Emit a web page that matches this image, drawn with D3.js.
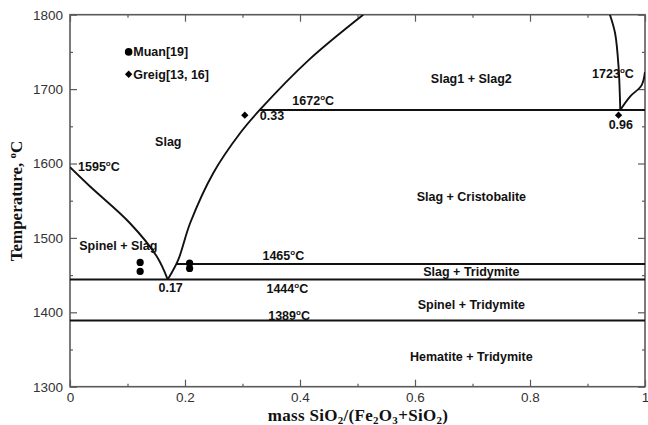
<!DOCTYPE html>
<html>
<head>
<meta charset="utf-8">
<script src="https://cdn.jsdelivr.net/npm/d3@7"></script>
<style>
  html, body { margin: 0; padding: 0; background: #fff; }
  svg { display: block; }
  .lbl { font-family: "Liberation Sans", Arial, sans-serif; font-weight: bold; font-size: 12.5px; fill: #111; }
  .tick text { font-family: "Liberation Sans", Arial, sans-serif; font-size: 13.5px; fill: #333; }
  .title { font-family: "Liberation Serif", "Times New Roman", serif; font-weight: bold; font-size: 17px; fill: #111; }
</style>
</head>
<body>
<svg id="chart" width="648" height="425"></svg>
<script>
// Fe2O3–SiO2 phase diagram in air

// x: mass fraction SiO2/(Fe2O3+SiO2), y: temperature (°C)
const xTicks = [0, 0.2, 0.4, 0.6, 0.8, 1];
const xTickLabels = ["0", "0.2", "0.4", "0.6", "0.8", "1"];
const yTicks = [1300, 1400, 1500, 1600, 1700, 1800];

// liquidus boundaries
const spinelLiquidus = [[0, 1595], [0.035, 1569], [0.104, 1520], [0.151, 1475], [0.17, 1444]];
const silicaLiquidus = [[0.17, 1444], [0.188, 1470], [0.209, 1520], [0.249, 1587], [0.296, 1641],
                        [0.33, 1672], [0.415, 1739], [0.51, 1800]];
const gapBoundary = [[0.939, 1800], [0.948, 1775], [0.954, 1730], [0.957, 1672]];
const cristobaliteLiquidus = [[0.957, 1672], [0.974, 1690], [0.994, 1705], [1.0, 1723]];

// invariant isotherms: [x start, x end, temperature]
const isotherms = [[0.33, 1, 1672], [0.186, 1, 1465], [0, 1, 1444], [0, 1, 1389]];

// experimental points
const muanPoints = [[0.122, 1467], [0.122, 1455], [0.208, 1466], [0.208, 1459]];
const greigPoints = [[0.304, 1665], [0.954, 1665]];

// region and temperature annotations: [text, x, y, anchor] in data units
const regionLabels = [
  ["Slag", 0.171, 1629, "middle"],
  ["Spinel + Slag", 0.016, 1489, "start"],
  ["Slag1 + Slag2", 0.698, 1714, "middle"],
  ["Slag + Cristobalite", 0.698, 1555, "middle"],
  ["Slag + Tridymite", 0.698, 1454, "middle"],
  ["Spinel + Tridymite", 0.698, 1410, "middle"],
  ["Hematite + Tridymite", 0.698, 1340, "middle"]
];
const tempLabels = [
  ["1595", 0.014, 1596, "start"],
  ["1672", 0.423, 1685, "middle"],
  ["1723", 0.908, 1721, "start"],
  ["1465", 0.371, 1477, "middle"],
  ["1444", 0.378, 1432, "middle"],
  ["1389", 0.381, 1396, "middle"]
];
const compLabels = [
  ["0.17", 0.175, 1433, "middle"],
  ["0.33", 0.33, 1665, "start"],
  ["0.96", 0.958, 1652, "middle"]
];

const svg = d3.select("#chart");
const pLeft = 70, pRight = 645, pTop = 14.7, pBottom = 386.7;
const x = d3.scaleLinear().domain([0, 1]).range([pLeft, pRight]);
const y = d3.scaleLinear().domain([1300, 1800]).range([pBottom, pTop]);

svg.append("defs").append("clipPath").attr("id", "plotclip")
  .append("rect").attr("x", pLeft).attr("y", pTop).attr("width", pRight - pLeft).attr("height", pBottom - pTop);

const axisColor = "#5a5a5a";
function styleAxis(g) {
  g.select(".domain").remove();
  g.selectAll(".tick line").attr("stroke", axisColor).attr("stroke-width", 1.2);
}
const minorX = d3.range(0.1, 1, 0.2);
const minorY = d3.range(1350, 1800, 100);

// bottom axis with labels, inward ticks
svg.append("g").attr("transform", `translate(0,${pBottom})`)
  .call(d3.axisBottom(x).tickValues(xTicks).tickFormat((d, i) => xTickLabels[i]).tickSizeInner(-7).tickSizeOuter(0).tickPadding(6))
  .call(styleAxis);
svg.append("g").attr("transform", `translate(0,${pBottom})`)
  .call(d3.axisBottom(x).tickValues(minorX).tickFormat("").tickSizeInner(-3).tickSizeOuter(0))
  .call(styleAxis);
// top axis ticks
svg.append("g").attr("transform", `translate(0,${pTop})`)
  .call(d3.axisTop(x).tickValues(xTicks).tickFormat("").tickSizeInner(-7).tickSizeOuter(0))
  .call(styleAxis);
svg.append("g").attr("transform", `translate(0,${pTop})`)
  .call(d3.axisTop(x).tickValues(minorX).tickFormat("").tickSizeInner(-3).tickSizeOuter(0))
  .call(styleAxis);
// left axis with labels
svg.append("g").attr("transform", `translate(${pLeft},0)`)
  .call(d3.axisLeft(y).tickValues(yTicks).tickFormat(d3.format("d")).tickSizeInner(-7).tickSizeOuter(0).tickPadding(7))
  .call(styleAxis);
svg.append("g").attr("transform", `translate(${pLeft},0)`)
  .call(d3.axisLeft(y).tickValues(minorY).tickFormat("").tickSizeInner(-3).tickSizeOuter(0))
  .call(styleAxis);
// right axis ticks
svg.append("g").attr("transform", `translate(${pRight},0)`)
  .call(d3.axisRight(y).tickValues(yTicks).tickFormat("").tickSizeInner(-7).tickSizeOuter(0))
  .call(styleAxis);
svg.append("g").attr("transform", `translate(${pRight},0)`)
  .call(d3.axisRight(y).tickValues(minorY).tickFormat("").tickSizeInner(-3).tickSizeOuter(0))
  .call(styleAxis);

svg.selectAll(".tick text").attr("fill", "#333");

// frame
svg.append("rect").attr("x", pLeft).attr("y", pTop).attr("width", pRight - pLeft).attr("height", pBottom - pTop)
  .attr("fill", "none").attr("stroke", axisColor).attr("stroke-width", 1.6);

const plot = svg.append("g").attr("clip-path", "url(#plotclip)");
const smooth = d3.line().x(d => x(d[0])).y(d => y(d[1])).curve(d3.curveCatmullRom);

[spinelLiquidus, silicaLiquidus, gapBoundary, cristobaliteLiquidus].forEach(pts => {
  plot.append("path").attr("d", smooth(pts)).attr("fill", "none")
    .attr("stroke", "#111").attr("stroke-width", 1.9);
});

plot.selectAll("line.iso").data(isotherms).join("line").attr("class", "iso")
  .attr("x1", d => x(d[0])).attr("x2", d => x(d[1]))
  .attr("y1", d => y(d[2])).attr("y2", d => y(d[2]))
  .attr("stroke", "#111").attr("stroke-width", 1.9);

// square diamond marker
const squareDiamond = {
  draw(ctx, size) {
    const r = Math.sqrt(size / 2);
    ctx.moveTo(0, -r); ctx.lineTo(r, 0); ctx.lineTo(0, r); ctx.lineTo(-r, 0); ctx.closePath();
  }
};
const diamond = d3.symbol().type(squareDiamond).size(27);

// markers
plot.selectAll("circle.muan").data(muanPoints).join("circle").attr("class", "muan")
  .attr("cx", d => x(d[0])).attr("cy", d => y(d[1])).attr("r", 3.6).attr("fill", "#000");
plot.selectAll("path.greig").data(greigPoints).join("path").attr("class", "greig")
  .attr("d", diamond).attr("transform", d => `translate(${x(d[0])},${y(d[1])})`).attr("fill", "#000");

// legend
const legend = svg.append("g");
legend.append("circle").attr("cx", x(0.102)).attr("cy", y(1750)).attr("r", 3.8).attr("fill", "#000");
legend.append("text").attr("class", "lbl").attr("x", x(0.11)).attr("y", y(1750)).attr("dy", "0.35em").text("Muan[19]");
legend.append("path").attr("d", diamond).attr("transform", `translate(${x(0.102)},${y(1720)})`).attr("fill", "#000");
legend.append("text").attr("class", "lbl").attr("x", x(0.11)).attr("y", y(1720)).attr("dy", "0.35em").text("Greig[13, 16]");

// annotations
svg.selectAll("text.region").data(regionLabels).join("text").attr("class", "lbl region")
  .attr("x", d => x(d[1])).attr("y", d => y(d[2])).attr("dy", "0.35em")
  .attr("text-anchor", d => d[3]).text(d => d[0]);

svg.selectAll("text.comp").data(compLabels).join("text").attr("class", "lbl comp")
  .attr("x", d => x(d[1])).attr("y", d => y(d[2])).attr("dy", "0.35em")
  .attr("text-anchor", d => d[3]).text(d => d[0]);

const temps = svg.selectAll("text.temp").data(tempLabels).join("text").attr("class", "lbl temp")
  .attr("x", d => x(d[1])).attr("y", d => y(d[2]) + 4.5)
  .attr("text-anchor", d => d[3]);
temps.append("tspan").text(d => d[0]);
temps.append("tspan").attr("dy", -5).attr("font-size", "8px").text("o");
temps.append("tspan").attr("dy", 5).text("C");

// axis titles
const xt = svg.append("text").attr("class", "title").attr("x", 358).attr("y", 420.5)
  .attr("text-anchor", "middle").attr("font-size", "16.5px").attr("letter-spacing", "0.3px");
xt.append("tspan").text("mass SiO");
xt.append("tspan").attr("font-size", "11px").attr("dy", 3.5).text("2");
xt.append("tspan").attr("dy", -3.5).text("/(Fe");
xt.append("tspan").attr("font-size", "11px").attr("dy", 3.5).text("2");
xt.append("tspan").attr("dy", -3.5).text("O");
xt.append("tspan").attr("font-size", "11px").attr("dy", 3.5).text("3");
xt.append("tspan").attr("dy", -3.5).text("+SiO");
xt.append("tspan").attr("font-size", "11px").attr("dy", 3.5).text("2");
xt.append("tspan").attr("dy", -3.5).text(")");

const yt = svg.append("text").attr("class", "title")
  .attr("transform", "translate(22,201) rotate(-90)").attr("text-anchor", "middle");
yt.append("tspan").text("Temperature, ");
yt.append("tspan").attr("font-size", "11px").attr("dy", -6).text("o");
yt.append("tspan").attr("dy", 6).text("C");
</script>
</body>
</html>
